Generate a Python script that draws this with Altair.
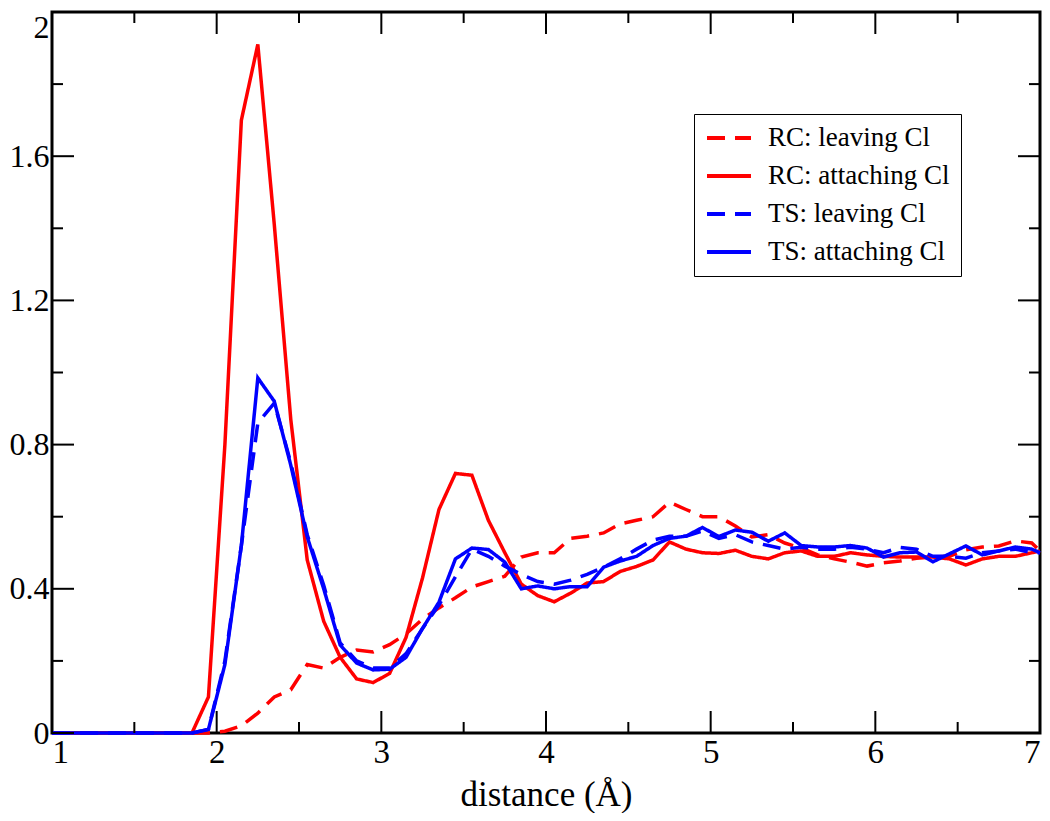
import altair as alt
import pandas as pd

# distance grid (Å)
X = [1.0, 1.05, 1.15, 1.25, 1.35, 1.45, 1.55, 1.65, 1.75,
     1.85, 1.95, 2.05, 2.15, 2.25, 2.35, 2.45, 2.55, 2.65, 2.75,
     2.85, 2.95, 3.05, 3.15, 3.25, 3.35, 3.45, 3.55, 3.65, 3.75,
     3.85, 3.95, 4.05, 4.15, 4.25, 4.35, 4.45, 4.55, 4.65, 4.75,
     4.85, 4.95, 5.05, 5.15, 5.25, 5.35, 5.45, 5.55, 5.65, 5.75,
     5.85, 5.95, 6.05, 6.15, 6.25, 6.35, 6.45, 6.55, 6.65, 6.75,
     6.85, 6.95, 7.0]

RC_LEAVING = [0, 0, 0, 0, 0, 0, 0, 0, 0,
              0, 0, 0.005, 0.02, 0.055, 0.10, 0.12, 0.19, 0.18, 0.21,
              0.23, 0.225, 0.245, 0.275, 0.316, 0.347, 0.375, 0.405, 0.42, 0.435,
              0.488, 0.50, 0.50, 0.54, 0.546, 0.555, 0.58, 0.59, 0.60, 0.64,
              0.62, 0.60, 0.60, 0.574, 0.544, 0.55, 0.527, 0.513, 0.494, 0.483,
              0.474, 0.463, 0.472, 0.477, 0.485, 0.488, 0.49, 0.508, 0.516, 0.519,
              0.533, 0.527, 0.505]

RC_ATTACHING = [0, 0, 0, 0, 0, 0, 0, 0, 0,
                0, 0.10, 0.80, 1.70, 1.91, 1.41, 0.87, 0.48, 0.31, 0.21,
                0.15, 0.14, 0.165, 0.265, 0.43, 0.62, 0.72, 0.715, 0.59, 0.50,
                0.413, 0.381, 0.364, 0.388, 0.416, 0.42, 0.448, 0.462, 0.48, 0.53,
                0.51, 0.50, 0.498, 0.507, 0.49, 0.483, 0.50, 0.505, 0.49, 0.49,
                0.50, 0.494, 0.49, 0.488, 0.488, 0.488, 0.483, 0.466, 0.483, 0.49,
                0.49, 0.50, 0.505]

TS_LEAVING = [0, 0, 0, 0, 0, 0, 0, 0, 0,
              0, 0.01, 0.20, 0.52, 0.86, 0.915, 0.75, 0.55, 0.41, 0.25,
              0.20, 0.18, 0.18, 0.22, 0.29, 0.355, 0.433, 0.51, 0.49, 0.463,
              0.44, 0.42, 0.413, 0.424, 0.44, 0.46, 0.483, 0.51, 0.535, 0.546,
              0.546, 0.56, 0.54, 0.55, 0.53, 0.52, 0.51, 0.515, 0.51, 0.51,
              0.515, 0.51, 0.50, 0.515, 0.51, 0.49, 0.49, 0.485, 0.50, 0.505,
              0.51, 0.50, 0.50]

TS_ATTACHING = [0, 0, 0, 0, 0, 0, 0, 0, 0,
                0, 0.01, 0.19, 0.52, 0.985, 0.92, 0.743, 0.544, 0.40, 0.244,
                0.194, 0.175, 0.177, 0.21, 0.29, 0.363, 0.483, 0.513, 0.509, 0.474,
                0.40, 0.408, 0.40, 0.406, 0.406, 0.46, 0.477, 0.49, 0.52, 0.54,
                0.546, 0.57, 0.545, 0.563, 0.557, 0.532, 0.555, 0.52, 0.516, 0.516,
                0.52, 0.513, 0.488, 0.50, 0.502, 0.475, 0.497, 0.519, 0.494, 0.505,
                0.516, 0.51, 0.50]

SERIES = ["RC: leaving Cl", "RC: attaching Cl", "TS: leaving Cl", "TS: attaching Cl"]
COLORS = ["#ff0000", "#ff0000", "#0000ff", "#0000ff"]
DASHES = [[18, 10], [1, 0], [18, 10], [1, 0]]

X_MAJOR = [1, 2, 3, 4, 5, 6, 7]
X_MINOR = [1.5, 2.5, 3.5, 4.5, 5.5, 6.5]
Y_MAJOR = [0, 0.4, 0.8, 1.2, 1.6, 2.0]
Y_MINOR = [0.2, 0.6, 1.0, 1.4, 1.8]

W, H = 988, 721
MAJ, MIN = 22, 11
FONT = "Liberation Serif"

rows = []
for name, vals in zip(SERIES, [RC_LEAVING, RC_ATTACHING, TS_LEAVING, TS_ATTACHING]):
    for i, (x, y) in enumerate(zip(X, vals)):
        rows.append({"series": name, "x": x, "y": y, "order": i})
df = pd.DataFrame(rows)

xscale = alt.Scale(domain=[1, 7], nice=False, zero=False)
yscale = alt.Scale(domain=[0, 2], nice=False)

xaxis = alt.Axis(values=X_MAJOR, format="d", ticks=False, domain=False, grid=False,
                 labelFont=FONT, labelFontSize=33, labelColor="black",
                 labelPadding=3, title="distance (Å)", titlePadding=8,
                 titleFont=FONT, titleFontSize=35, titleFontWeight="normal", titleColor="black")
yaxis = alt.Axis(values=Y_MAJOR, format="~g", ticks=False, domain=False, grid=False,
                 labelFont=FONT, labelFontSize=32, labelColor="black",
                 labelPadding=3, title=None,
                 labelBaseline={"condition": {"test": "datum.value >= 2", "value": "top"}, "value": "middle"})

legend = alt.Legend(title=None, orient="none", legendX=642, legendY=102,
                    labelFont=FONT, labelFontSize=27, labelColor="black",
                    symbolType="stroke", symbolSize=1936, symbolStrokeWidth=4,
                    clipHeight=26, rowPadding=11, labelOffset=15, padding=11,
                    strokeColor="black", fillColor="white", labelLimit=400)

lines = alt.Chart(df).mark_line(strokeWidth=3.5).encode(
    x=alt.X("x:Q", scale=xscale, axis=xaxis),
    y=alt.Y("y:Q", scale=yscale, axis=yaxis),
    color=alt.Color("series:N", scale=alt.Scale(domain=SERIES, range=COLORS), legend=legend),
    strokeDash=alt.StrokeDash("series:N", scale=alt.Scale(domain=SERIES, range=DASHES), legend=legend),
    order="order:Q",
)


def xticks(vals, length):
    base = alt.Chart(pd.DataFrame({"x": vals}))
    bottom = base.mark_rule(color="black", strokeWidth=2).encode(
        x=alt.X("x:Q", scale=xscale, axis=xaxis), y=alt.value(H), y2=alt.value(H - length))
    top = base.mark_rule(color="black", strokeWidth=2).encode(
        x=alt.X("x:Q", scale=xscale, axis=xaxis), y=alt.value(0), y2=alt.value(length))
    return [bottom, top]


def yticks(vals, length):
    base = alt.Chart(pd.DataFrame({"y": vals}))
    left = base.mark_rule(color="black", strokeWidth=2).encode(
        y=alt.Y("y:Q", scale=yscale, axis=yaxis), x=alt.value(0), x2=alt.value(length))
    right = base.mark_rule(color="black", strokeWidth=2).encode(
        y=alt.Y("y:Q", scale=yscale, axis=yaxis), x=alt.value(W), x2=alt.value(W - length))
    return [left, right]


layers = [lines] + xticks(X_MAJOR, MAJ) + xticks(X_MINOR, MIN) + yticks(Y_MAJOR, MAJ) + yticks(Y_MINOR, MIN)

chart = alt.layer(*layers).properties(
    width=W, height=H,
    autosize=alt.AutoSizeParams(type="none"),
    padding={"left": 44, "top": 4, "right": 2, "bottom": 80},
    background="white",
).configure_view(
    stroke="black", strokeWidth=3
)

chart.save("out.html", embed_options={"renderer": "svg", "actions": False})
